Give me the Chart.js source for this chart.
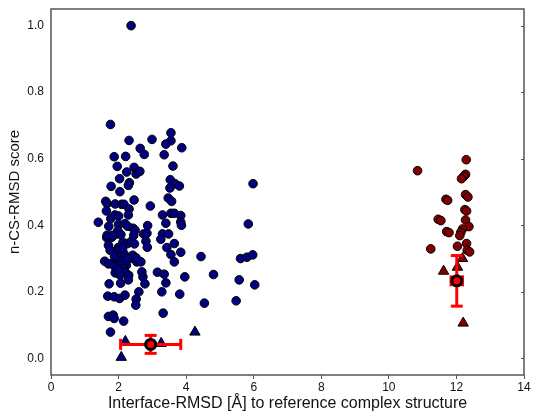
<!DOCTYPE html>
<html>
<head>
<meta charset="utf-8">
<script src="https://cdn.jsdelivr.net/npm/chart.js@4.4.1/dist/chart.umd.min.js"></script>
<style>
  html, body { margin: 0; padding: 0; background: #fff; }
  #wrap { width: 533px; height: 416px; }
</style>
</head>
<body>
<div id="wrap"><canvas id="chart" width="533" height="416"></canvas></div>
<script>
// blue cluster: models near the reference interface
const blueCircles = [
  [2.37,1.0],[1.76,0.703],[2.31,0.655],[2.99,0.658],[2.64,0.631],[2.76,0.613],[1.87,0.606],[2.21,0.607],
  [1.96,0.577],[2.46,0.574],[2.24,0.56],[2.52,0.554],[2.63,0.562],[2.03,0.54],[2.32,0.528],[2.29,0.52],
  [1.78,0.517],[2.04,0.501],[1.62,0.472],[1.66,0.465],[1.90,0.464],[2.09,0.463],[2.16,0.463],[2.46,0.476],
  [2.31,0.449],[2.29,0.431],[1.64,0.443],[1.77,0.42],[1.89,0.431],[2.0,0.428],[2.94,0.458],[1.40,0.409],
  [1.71,0.397],[2.0,0.403],[2.19,0.405],[2.27,0.397],[2.43,0.391],[2.49,0.385],[2.86,0.399],[2.74,0.374],
  [1.65,0.363],[1.80,0.364],[1.92,0.373],[1.98,0.384],[2.07,0.372],[1.70,0.34],[1.99,0.333],[2.13,0.349],
  [2.27,0.345],[2.38,0.352],[2.81,0.352],[2.85,0.334],[2.47,0.344],[1.59,0.292],[1.84,0.288],[1.70,0.284],
  [1.95,0.301],[2.05,0.295],[2.23,0.28],[2.34,0.30],[2.42,0.31],[2.54,0.29],[2.66,0.29],[1.90,0.257],
  [2.03,0.28],[2.15,0.27],[2.19,0.26],[2.30,0.25],[2.69,0.26],[2.05,0.25],[3.15,0.259],[3.35,0.253],
  [1.72,0.224],[3.40,0.227],[2.78,0.224],[2.60,0.20],[3.28,0.20],[1.68,0.187],[1.87,0.185],[2.03,0.18],
  [2.19,0.19],[2.52,0.178],[2.51,0.16],[1.70,0.126],[1.84,0.13],[1.87,0.12],[2.15,0.112],[3.32,0.136],
  [1.76,0.079],[1.98,0.327],[2.16,0.315],[2.27,0.30],[2.52,0.302],[1.88,0.307],[1.88,0.277],[1.98,0.267],
  [2.06,0.226],[2.29,0.236],[2.72,0.245],[1.66,0.37],[1.82,0.37],[2.45,0.37],[2.12,0.33],[1.75,0.325],
  [3.55,0.678],[3.55,0.654],[3.40,0.644],[3.87,0.633],[3.35,0.612],[3.61,0.578],[3.53,0.537],[3.67,0.525],
  [3.80,0.518],[3.52,0.512],[3.47,0.482],[3.57,0.472],[3.30,0.431],[3.55,0.436],[3.65,0.436],[3.84,0.429],
  [3.84,0.41],[3.86,0.40],[3.40,0.406],[2.84,0.376],[3.30,0.374],[3.48,0.374],[3.25,0.358],[3.65,0.345],
  [3.43,0.333],[3.84,0.319],[3.55,0.312],[3.65,0.29],[3.96,0.245],[3.81,0.193],[5.98,0.525],[5.84,0.404],
  [4.44,0.306],[5.61,0.30],[5.80,0.304],[5.97,0.311],[4.81,0.252],[5.57,0.236],[6.03,0.221],[4.54,0.166],
  [5.48,0.173]
];
const blueTriangles = [[2.08,0.003],[2.20,0.051],[3.26,0.045],[4.26,0.079]];
const blueMean = [2.95, 0.042];
const blueErr  = [0.89, 0.027];

// red cluster: alternative binding mode
const redCircles = [
  [12.29,0.597],[10.85,0.564],[12.27,0.553],[12.22,0.547],[12.15,0.54],[12.27,0.492],[12.34,0.485],
  [11.69,0.478],[11.74,0.475],[12.25,0.447],[12.30,0.443],[11.46,0.418],[11.54,0.414],[12.27,0.416],
  [12.37,0.396],[12.18,0.389],[12.13,0.379],[12.10,0.369],[11.71,0.381],[11.78,0.378],[12.30,0.345],
  [12.03,0.337],[11.24,0.329],[12.32,0.325],[12.39,0.32]
];
const redTriangles = [[12.18,0.30],[11.62,0.262],[12.03,0.274],[12.20,0.106]];
const redMean = [12.01, 0.233];
const redErr  = [0.17, 0.076];

const xTicks = [0, 2, 4, 6, 8, 10, 12, 14];
const yTicks = [0, 0.2, 0.4, 0.6, 0.8, 1.0];

const FONT = "'Liberation Sans', Arial, sans-serif";
const toPts = arr => arr.map(([x, y]) => ({ x, y }));

const markers = (data, fill, style, radius, order) => ({
  data: toPts(data),
  pointStyle: style,
  pointRadius: radius,
  pointBackgroundColor: fill,
  pointBorderColor: '#000',
  pointBorderWidth: 1,
  showLine: false,
  order
});

// error bar = 2-point line, caps drawn as 'line' point markers
const errBars = (m, e) => [
  {
    data: [{ x: m[0] - e[0], y: m[1] }, { x: m[0] + e[0], y: m[1] }],
    showLine: true, borderColor: '#ff0000', borderWidth: 3,
    pointStyle: 'line', pointRotation: 90, pointRadius: 5.5,
    pointBorderColor: '#ff0000', pointBorderWidth: 3, order: 1
  },
  {
    data: [{ x: m[0], y: m[1] - e[1] }, { x: m[0], y: m[1] + e[1] }],
    showLine: true, borderColor: '#ff0000', borderWidth: 3,
    pointStyle: 'line', pointRotation: 0, pointRadius: 6,
    pointBorderColor: '#ff0000', pointBorderWidth: 3, order: 1
  }
];

const meanMarker = m => ({
  data: toPts([m]),
  pointStyle: 'circle', pointRadius: 5,
  pointBackgroundColor: '#ff0000', pointBorderColor: '#000', pointBorderWidth: 3,
  showLine: false, order: 0
});

const frame = {
  id: 'frame',
  afterDatasetsDraw(chart) {
    const { ctx, chartArea: a, scales } = chart;
    ctx.save();
    ctx.strokeStyle = '#555';
    ctx.lineWidth = 1.5;
    ctx.strokeRect(a.left, a.top, a.right - a.left, a.bottom - a.top);
    // small inward ticks on the right side
    ctx.lineWidth = 1;
    yTicks.forEach(v => {
      const py = Math.round(scales.y.getPixelForValue(v)) + 0.5;
      ctx.beginPath();
      ctx.moveTo(a.right - 3, py);
      ctx.lineTo(a.right, py);
      ctx.stroke();
    });
    ctx.restore();
  }
};

new Chart(document.getElementById('chart'), {
  type: 'scatter',
  data: {
    datasets: [
      meanMarker(blueMean),
      meanMarker(redMean),
      ...errBars(blueMean, blueErr),
      ...errBars(redMean, redErr),
      markers(blueTriangles, '#000080', 'triangle', 6, 2),
      markers(redTriangles, '#800000', 'triangle', 6, 2),
      markers(blueCircles, '#000080', 'circle', 4.3, 3),
      markers(redCircles, '#800000', 'circle', 4.3, 3)
    ]
  },
  options: {
    responsive: false,
    animation: false,
    events: [],
    layout: { padding: { left: 0, top: 5, right: 7, bottom: 0 } },
    plugins: { legend: { display: false }, tooltip: { enabled: false } },
    scales: {
      x: {
        type: 'linear', min: 0, max: 14,
        afterBuildTicks: s => { s.ticks = xTicks.map(v => ({ value: v })); },
        afterFit: s => { s.height = 41; s.paddingLeft = 0; s.paddingRight = 0; },
        grid: { display: true, drawOnChartArea: false, drawTicks: true, tickLength: 4, color: '#555' },
        border: { display: false },
        ticks: { padding: 1, color: '#111', font: { family: FONT, size: 12 }, maxRotation: 0 },
        title: {
          display: true, text: 'Interface-RMSD [Å] to reference complex structure',
          color: '#111', font: { family: FONT, size: 16 }, padding: { top: 0, bottom: 3 }
        }
      },
      y: {
        type: 'linear', min: -0.05, max: 1.05,
        afterBuildTicks: s => { s.ticks = yTicks.map(v => ({ value: v })); },
        afterFit: s => { s.width = 51; s.paddingTop = 0; s.paddingBottom = 0; },
        grid: { display: false, drawTicks: false },
        border: { display: false },
        ticks: { padding: 7, color: '#111', font: { family: FONT, size: 12 },
                 callback: v => Number(v).toFixed(1) },
        title: {
          display: true, text: 'n-CS-RMSD score',
          color: '#111', font: { family: FONT, size: 15 }, padding: { top: 6, bottom: 0 }
        }
      }
    }
  },
  plugins: [frame]
});
</script>
</body>
</html>
